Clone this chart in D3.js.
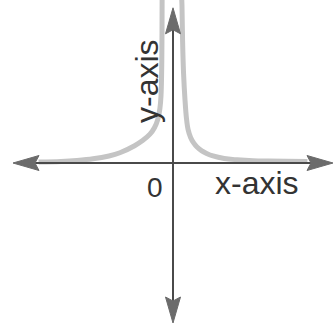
<!DOCTYPE html>
<html>
<head>
<meta charset="utf-8">
<script src="https://cdn.jsdelivr.net/npm/d3@7"></script>
<style>
  body { margin: 0; background: #fff; }
  svg { display: block; }
</style>
</head>
<body>
<div id="canvas"></div>
<script>
// axis extents, in chart units
let xAxisEnds = [-5, 5]
let yAxisEnds = [-5, 4.85]

// the two branches of the curve
let leftX = [-4.2, -3.5, -3, -2.5, -2, -1.66, -1.2, -0.95, -0.72, -0.58, -0.47, -0.41, -0.375, -0.35, -0.34]
let leftY = [0.03, 0.05, 0.08, 0.13, 0.22, 0.32, 0.54, 0.7, 0.9, 1.1, 1.38, 1.7, 2.1, 3.2, 5.2]
let rightX = [0.27, 0.28, 0.3, 0.33, 0.375, 0.42, 0.47, 0.55, 0.65, 0.75, 0.9, 1.05, 1.25, 1.6, 2, 2.5, 3, 4.2]
let rightY = [5.2, 4.94, 3.8, 2.8, 1.97, 1.4, 1.05, 0.8, 0.62, 0.5, 0.38, 0.3, 0.22, 0.14, 0.1, 0.07, 0.06, 0.05]

let xLabel = 'x-axis'
let yLabel = 'y-axis'
let originLabel = '0'

let width = 334
let height = 330

let svg = d3.select('#canvas').append('svg')
    .attr('width', width)
    .attr('height', height)

let x = d3.scaleLinear().domain([-5, 5]).range([13, 333])
let y = d3.scaleLinear().domain([-5, 5]).range([323, 3])

let line = d3.line()
    .x((d) => x(d[0]))
    .y((d) => y(d[1]))
    .curve(d3.curveCatmullRom.alpha(0.5))

// curve goes under the axes
svg.append('path')
    .attr('d', line(d3.zip(leftX, leftY)))
    .attr('fill', 'none')
    .attr('stroke', '#c4c4c4')
    .attr('stroke-width', 5)

svg.append('path')
    .attr('d', line(d3.zip(rightX, rightY)))
    .attr('fill', 'none')
    .attr('stroke', '#c4c4c4')
    .attr('stroke-width', 5)

let axisColor = '#4a4a4a'
let headColor = '#6b6b6b'

// horizontal axis
svg.append('line')
    .attr('x1', x(xAxisEnds[0]) + 10)
    .attr('x2', x(xAxisEnds[1]) - 10)
    .attr('y1', y(0))
    .attr('y2', y(0))
    .attr('stroke', axisColor)
    .attr('stroke-width', 2)

// vertical axis
svg.append('line')
    .attr('x1', x(0))
    .attr('x2', x(0))
    .attr('y1', y(yAxisEnds[0]) - 10)
    .attr('y2', y(yAxisEnds[1]) + 10)
    .attr('stroke', axisColor)
    .attr('stroke-width', 2)

// arrow heads: tip point, direction
let arrow = function (tx, ty, dx, dy) {
    let len = 26
    let half = 7.5
    let bx = tx - dx * len
    let by = ty - dy * len
    let p = d3.path()
    p.moveTo(tx, ty)
    p.lineTo(bx - dy * half, by + dx * half)
    p.lineTo(tx - dx * (len - 4), ty - dy * (len - 4))
    p.lineTo(bx + dy * half, by - dx * half)
    p.closePath()
    return p.toString()
}

let heads = [
    [x(xAxisEnds[0]), y(0), -1, 0],
    [x(xAxisEnds[1]), y(0), 1, 0],
    [x(0), y(yAxisEnds[1]), 0, -1],
    [x(0), y(yAxisEnds[0]), 0, 1]
]

svg.selectAll('path.head')
    .data(heads)
    .enter()
    .append('path')
    .attr('class', 'head')
    .attr('d', (d) => arrow(d[0], d[1], d[2], d[3]))
    .attr('fill', headColor)
    .attr('stroke', headColor)
    .attr('stroke-width', 1)

// labels
let font = '"Liberation Sans", Arial, sans-serif'

svg.append('text')
    .attr('x', 215)
    .attr('y', 194)
    .attr('font-family', font)
    .attr('font-size', 32)
    .attr('fill', '#333')
    .text(xLabel)

svg.append('text')
    .attr('transform', 'translate(158, 123) rotate(-90)')
    .attr('font-family', font)
    .attr('font-size', 32)
    .attr('fill', '#333')
    .text(yLabel)

svg.append('text')
    .attr('x', 147)
    .attr('y', 197)
    .attr('font-family', font)
    .attr('font-size', 28)
    .attr('fill', '#333')
    .text(originLabel)
</script>
</body>
</html>
